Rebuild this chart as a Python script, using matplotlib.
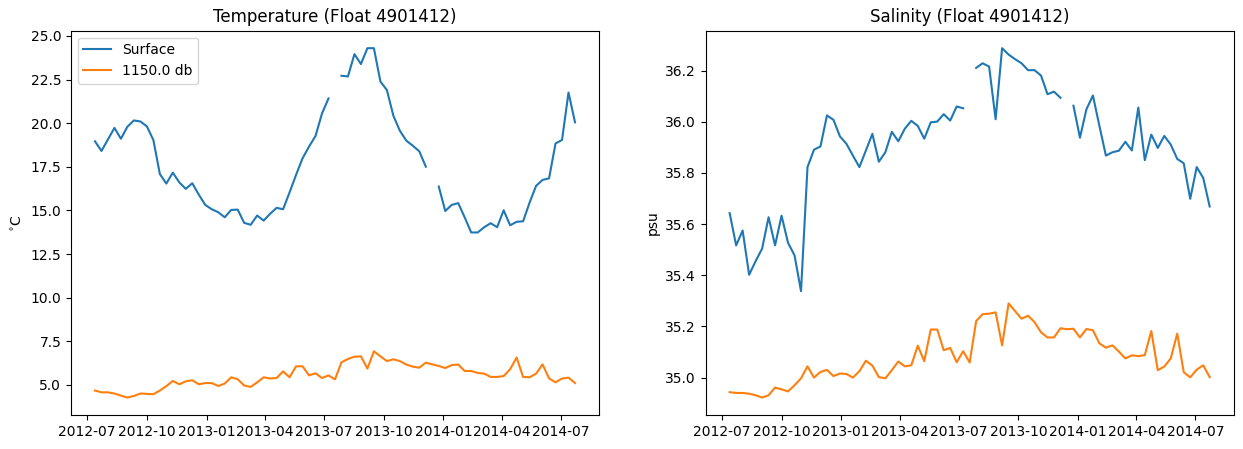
import numpy as np
import pandas as pd
import matplotlib
matplotlib.use("Agg")
import matplotlib.pyplot as plt

# profile dates (10-day cycles)
dates = pd.to_datetime([
    "2012-07-13", "2012-07-23", "2012-08-02", "2012-08-12", "2012-08-22",
    "2012-09-01", "2012-09-11", "2012-09-21", "2012-10-01", "2012-10-11",
    "2012-10-21", "2012-10-31", "2012-11-10", "2012-11-20", "2012-11-30",
    "2012-12-10", "2012-12-20", "2012-12-30", "2013-01-09", "2013-01-19",
    "2013-01-29", "2013-02-08", "2013-02-18", "2013-02-28", "2013-03-10",
    "2013-03-20", "2013-03-30", "2013-04-09", "2013-04-19", "2013-04-29",
    "2013-05-09", "2013-05-19", "2013-05-29", "2013-06-08", "2013-06-18",
    "2013-06-28", "2013-07-08", "2013-07-18", "2013-07-28", "2013-08-07",
    "2013-08-17", "2013-08-27", "2013-09-06", "2013-09-16", "2013-09-26",
    "2013-10-06", "2013-10-16", "2013-10-26", "2013-11-05", "2013-11-15",
    "2013-11-25", "2013-12-05", "2013-12-15", "2013-12-25", "2014-01-04",
    "2014-01-14", "2014-01-24", "2014-02-03", "2014-02-13", "2014-02-23",
    "2014-03-05", "2014-03-15", "2014-03-25", "2014-04-04", "2014-04-14",
    "2014-04-24", "2014-05-04", "2014-05-14", "2014-05-24", "2014-06-03",
    "2014-06-13", "2014-06-23", "2014-07-03", "2014-07-13", "2014-07-23",
])

nan = np.nan

temp_surface = [
    18.96, 18.41, 19.07, 19.73, 19.11, 19.80, 20.16, 20.10, 19.82, 19.04,
    17.09, 16.54, 17.17, 16.61, 16.24, 16.56, 15.91, 15.32, 15.07, 14.90,
    14.61, 15.03, 15.05, 14.29, 14.18, 14.71, 14.42, 14.81, 15.15, 15.07,
    16.04, 17.04, 17.99, 18.66, 19.27, 20.56, 21.42, nan, 22.72, 22.68,
    23.96, 23.39, 24.30, 24.30, 22.39, 21.90, 20.43, 19.57, 19.00, 18.71,
    18.39, 17.51, nan, 16.37, 14.97, 15.32, 15.42, 14.60, 13.74, 13.74,
    14.04, 14.27, 14.04, 15.01, 14.15, 14.35, 14.38, 15.45, 16.41, 16.75,
    16.84, 18.84, 19.04, 21.76, 20.05,
]

temp_deep = [
    4.68, 4.58, 4.58, 4.51, 4.39, 4.28, 4.37, 4.51, 4.49, 4.47,
    4.68, 4.93, 5.23, 5.04, 5.21, 5.27, 5.04, 5.11, 5.11, 4.94,
    5.08, 5.44, 5.33, 4.97, 4.89, 5.15, 5.44, 5.37, 5.40, 5.78,
    5.44, 6.07, 6.07, 5.55, 5.67, 5.40, 5.55, 5.32, 6.30, 6.49,
    6.62, 6.64, 5.94, 6.93, 6.64, 6.37, 6.47, 6.37, 6.17, 6.05,
    5.99, 6.28, 6.18, 6.09, 5.97, 6.14, 6.17, 5.80, 5.80, 5.69,
    5.65, 5.46, 5.46, 5.51, 5.90, 6.57, 5.46, 5.44, 5.65, 6.18,
    5.38, 5.15, 5.37, 5.42, 5.11,
]

sal_surface = [
    35.643, 35.517, 35.575, 35.402, 35.455, 35.504, 35.627, 35.517, 35.633, 35.527,
    35.478, 35.338, 35.823, 35.891, 35.904, 36.025, 36.008, 35.943, 35.914, 35.868,
    35.823, 35.888, 35.953, 35.844, 35.881, 35.961, 35.924, 35.973, 36.004, 35.984,
    35.934, 35.998, 36.001, 36.030, 36.005, 36.060, 36.053, nan, 36.211, 36.229,
    36.216, 36.010, 36.288, 36.263, 36.245, 36.229, 36.202, 36.202, 36.181, 36.108,
    36.118, 36.094, nan, 36.063, 35.938, 36.049, 36.103, 35.984, 35.868, 35.881,
    35.887, 35.922, 35.888, 36.056, 35.850, 35.950, 35.898, 35.945, 35.911, 35.855,
    35.838, 35.699, 35.823, 35.781, 35.669,
]

sal_deep = [
    34.943, 34.940, 34.940, 34.937, 34.931, 34.922, 34.931, 34.961, 34.954, 34.946,
    34.970, 34.997, 35.044, 35.000, 35.022, 35.030, 35.006, 35.016, 35.014, 35.000,
    35.025, 35.066, 35.047, 35.002, 34.997, 35.029, 35.063, 35.044, 35.048, 35.125,
    35.064, 35.188, 35.188, 35.107, 35.116, 35.060, 35.103, 35.059, 35.221, 35.248,
    35.250, 35.255, 35.126, 35.290, 35.260, 35.230, 35.242, 35.217, 35.177, 35.157,
    35.157, 35.193, 35.189, 35.191, 35.157, 35.190, 35.185, 35.134, 35.117, 35.126,
    35.102, 35.075, 35.087, 35.084, 35.088, 35.182, 35.029, 35.043, 35.075, 35.172,
    35.021, 35.001, 35.031, 35.048, 35.002,
]

fig, (ax1, ax2) = plt.subplots(1, 2, figsize=(12.43, 4.49), dpi=100)
fig.subplots_adjust(left=0.0571, right=0.9925, top=0.9316, bottom=0.0757, wspace=0.202)

# temperature
ax1.plot(dates, temp_surface, label="Surface")
ax1.plot(dates, temp_deep, label="1150.0 db")
ax1.set_title("Temperature (Float 4901412)")
ax1.set_ylabel(r"$^{\circ}$C")
ax1.legend(loc="upper left")

# salinity
ax2.plot(dates, sal_surface)
ax2.plot(dates, sal_deep)
ax2.set_title("Salinity (Float 4901412)")
ax2.set_ylabel("psu")

plt.savefig("out.png", dpi=100)
